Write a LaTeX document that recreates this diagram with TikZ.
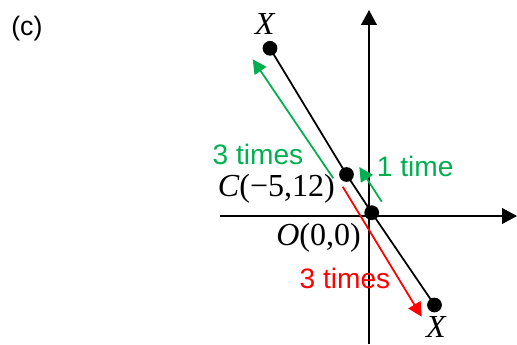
\documentclass[tikz,border=0pt]{standalone}
\usepackage{fontspec}
\setmainfont{Liberation Sans}
\newfontfamily\tnr{Liberation Serif}
\usetikzlibrary{arrows.meta}
\definecolor{MoveGreen}{RGB}{0,176,80}
\definecolor{MoveRed}{RGB}{255,0,0}

\begin{document}
\begin{tikzpicture}[x=0.025cm,y=-0.025cm,
    dot/.style={circle,fill=black,inner sep=0pt,minimum size=10.5pt},
    axisline/.style={-{Triangle[length=10.5pt,width=11pt]},line width=1.25pt},
    seg/.style={line width=1.25pt},
    movearrow/.style={-{Triangle[length=10pt,width=10pt]},line width=1.25pt},
    lbl/.style={inner sep=0pt,anchor=base west,font=\fontsize{20}{24}\selectfont},
    ptlbl/.style={inner sep=0pt,font=\tnr\fontsize{22.8}{27}\selectfont}]
    \useasboundingbox (0,0) rectangle (517,344);

    % axes
    \coordinate (xl) at (220,216); \coordinate (xr) at (517,216);
    \coordinate (yb) at (369,344); \coordinate (yt) at (369,10);
    \draw[axisline] (xl) -- (xr);
    \draw[axisline] (yb) -- (yt);

    % points on the line
    \node[dot] (Xt) at (270,48.3) {};
    \node[dot] (C)  at (346.5,174.5) {};
    \node[dot] (O)  at (371.7,212.7) {};
    \node[dot] (Xb) at (434.5,305) {};
    \draw[seg] (Xt.center) -- (C.center) -- (O.center) -- (Xb.center);

    \node[ptlbl,anchor=base] (lXt) at (264.7,34) {\itshape X};
    \node[ptlbl,anchor=base] (lXb) at (436,337.5) {\itshape X};
    \node[ptlbl,anchor=base west] (lC) at (217.7,196.7) {{\itshape C}(−5,12)};
    \node[ptlbl,anchor=base west] (lO) at (276,245) {{\itshape O}(0,0)};

    % moves
    \coordinate (g1s) at (333.3,178.3); \coordinate (g1e) at (252.7,59.3);
    \coordinate (g2s) at (381.7,201.7); \coordinate (g2e) at (359.3,167);
    \coordinate (r1s) at (342.7,186.7); \coordinate (r1e) at (421.7,316.7);
    \draw[movearrow,MoveGreen] (g1s) -- (g1e);
    \draw[movearrow,MoveGreen] (g2s) -- (g2e);
    \draw[movearrow,MoveRed] (r1s) -- (r1e);

    \node[lbl,text=MoveGreen] (t3g) at (212.3,164.3) {3 times};
    \node[lbl,text=MoveGreen] (t1g) at (376.7,176) {1 time};
    \node[lbl,text=MoveRed] (t3r) at (299.3,288.3) {3 times};

    \node[lbl,font=\fontsize{19}{22}\selectfont] (cap) at (11,35) {(c)};
\end{tikzpicture}
\end{document}
